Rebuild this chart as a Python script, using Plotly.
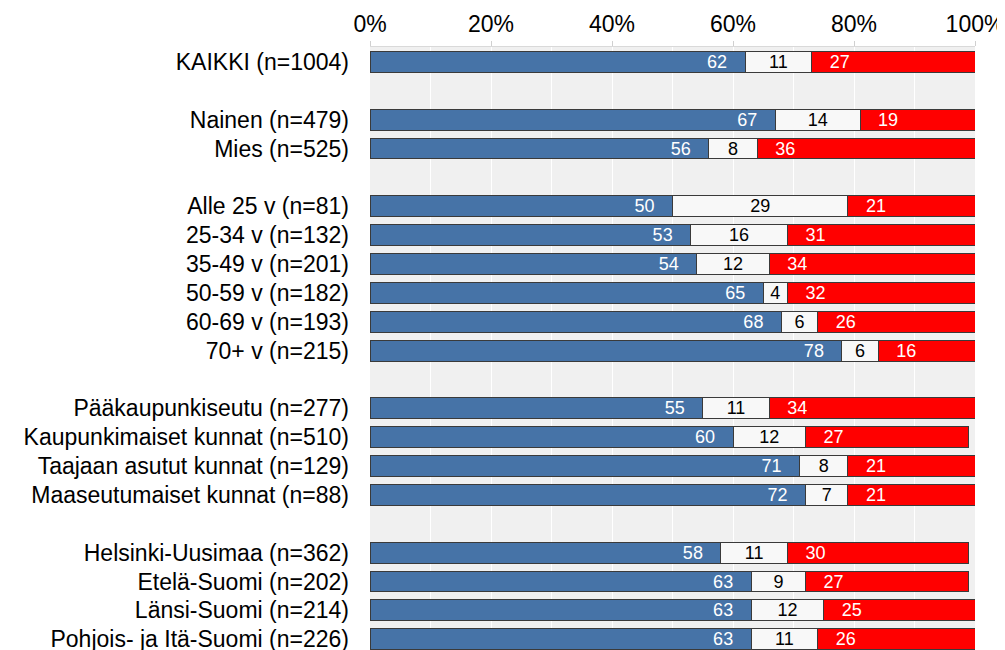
import plotly.graph_objects as go

categories = [
    "KAIKKI (n=1004)",
    "Nainen (n=479)", "Mies (n=525)",
    "Alle 25 v (n=81)", "25-34 v (n=132)", "35-49 v (n=201)",
    "50-59 v (n=182)", "60-69 v (n=193)", "70+ v (n=215)",
    "Pääkaupunkiseutu (n=277)", "Kaupunkimaiset kunnat (n=510)",
    "Taajaan asutut kunnat (n=129)", "Maaseutumaiset kunnat (n=88)",
    "Helsinki-Uusimaa (n=362)", "Etelä-Suomi (n=202)",
    "Länsi-Suomi (n=214)", "Pohjois- ja Itä-Suomi (n=226)",
]
# row positions (gaps between groups)
rows = [0, 2, 3, 5, 6, 7, 8, 9, 10, 12, 13, 14, 15, 17, 18, 19, 20]

blue = [62, 67, 56, 50, 53, 54, 65, 68, 78, 55, 60, 71, 72, 58, 63, 63, 63]
white = [11, 14, 8, 29, 16, 12, 4, 6, 6, 11, 12, 8, 7, 11, 9, 12, 11]
red = [27, 19, 36, 21, 31, 34, 32, 26, 16, 34, 27, 21, 21, 30, 27, 25, 26]

NB = "\u00a0"
FONT = "Liberation Sans, Arial"
fig = go.Figure()
common = dict(orientation="h", y=rows, width=0.72, textposition="inside",
              constraintext="none", cliponaxis=True, hoverinfo="skip", textangle=0)
fig.add_trace(go.Bar(x=blue, text=blue, texttemplate="%{text}" + NB * 3,
                     insidetextanchor="end",
                     marker=dict(color="#4673A7", line=dict(color="#3a3a3a", width=1)),
                     textfont=dict(color="white", size=18, family=FONT),
                     **common))
fig.add_trace(go.Bar(x=white, text=white, texttemplate="%{text}",
                     insidetextanchor="middle",
                     marker=dict(color="#f8f8f8", line=dict(color="#3a3a3a", width=1)),
                     textfont=dict(color="black", size=18, family=FONT),
                     **common))
fig.add_trace(go.Bar(x=red, text=red, texttemplate=NB * 3 + "%{text}",
                     insidetextanchor="start",
                     marker=dict(color="#ff0000", line=dict(color="#3a3a3a", width=1)),
                     textfont=dict(color="white", size=18, family=FONT),
                     **common))

fig.update_layout(
    barmode="stack",
    width=1005, height=650,
    margin=dict(l=362, r=38, t=39, b=0, autoexpand=False),
    paper_bgcolor="white",
    plot_bgcolor="#f0f0f0",
    showlegend=False,
    font=dict(family=FONT, color="black", size=23),
    uniformtext=dict(minsize=18, mode="show"),
)
fig.update_xaxes(
    side="top", range=[0, 100], dtick=20, ticksuffix="%",
    showgrid=True, gridcolor="white", gridwidth=1,
    minor=dict(dtick=10, showgrid=True, gridcolor="white", gridwidth=1),
    ticks="outside", ticklen=5, tickcolor="#d0d0d0",
    showline=True, linecolor="#d9d9d9", linewidth=1,
    zeroline=False, tickfont=dict(size=23), automargin=False,
)
fig.update_yaxes(
    tickvals=rows, ticktext=categories, range=[20.65, -0.52],
    showgrid=False, zeroline=False, ticks="", ticklabelstandoff=20,
    tickfont=dict(size=23), automargin=False,
)

fig.write_html("out.html")
